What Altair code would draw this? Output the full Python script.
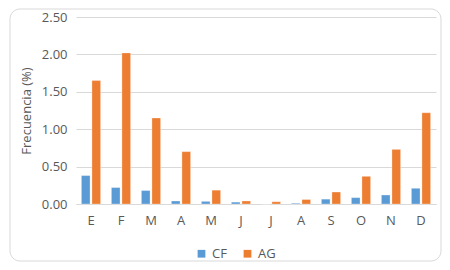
import altair as alt
import pandas as pd

months = ["E", "F", "M", "A", "M ", "J", "J ", "A ", "S", "O", "N", "D"]
cf = [0.38, 0.22, 0.18, 0.04, 0.035, 0.025, 0.0, 0.01, 0.065, 0.085, 0.12, 0.21]
ag = [1.65, 2.02, 1.15, 0.70, 0.185, 0.04, 0.03, 0.06, 0.16, 0.37, 0.73, 1.22]
series = ["CF", "AG"]
colors = ["#5B9BD5", "#ED7D31"]

rows = []
for i, m in enumerate(months):
    rows.append({"mes": m, "serie": "CF", "valor": cf[i], "orden": 0})
    rows.append({"mes": m, "serie": "AG", "valor": ag[i], "orden": 1})
df = pd.DataFrame(rows)

font = "Open Sans"
gray = "#595959"

bars = alt.Chart(df).mark_bar(stroke="white", strokeWidth=0.5, strokeOpacity=0.6).encode(
    x=alt.X("mes:N", sort=months, title=None,
            scale=alt.Scale(paddingInner=0.36, paddingOuter=0.18),
            axis=alt.Axis(labelAngle=0, ticks=False, domainColor="#d9d9d9",
                          labelColor=gray, labelFont=font, labelFontSize=13,
                          labelPadding=10, grid=False,
                          labelExpr="trim(datum.label)")),
    xOffset=alt.XOffset("serie:N", sort=series, scale=alt.Scale(paddingInner=0.18)),
    y=alt.Y("valor:Q", title="Frecuencia (%)",
            scale=alt.Scale(domain=[0, 2.5]),
            axis=alt.Axis(values=[0, 0.5, 1.0, 1.5, 2.0, 2.5], format=".2f",
                          ticks=False, domain=False, gridColor="#d9d9d9",
                          labelColor=gray, labelFont=font, labelFontSize=13,
                          labelPadding=9, titleColor=gray, titleFont=font,
                          titleFontSize=13, titleFontWeight="normal",
                          titlePadding=8)),
    color=alt.Color("serie:N", sort=series,
                    scale=alt.Scale(domain=series, range=colors),
                    legend=alt.Legend(orient="none", legendX=119, legendY=230,
                                      direction="horizontal", title=None,
                                      symbolType="square", symbolSize=60,
                                      symbolStrokeWidth=0,
                                      labelColor=gray, labelFont=font,
                                      labelFontSize=13, columnPadding=14)),
)

border = alt.Chart(pd.DataFrame({"a": [0]})).mark_rect(
    fill=None, stroke="#d9d9d9", strokeWidth=1, cornerRadius=10
).encode(
    x=alt.value(-66), x2=alt.value(365),
    y=alt.value(-8), y2=alt.value(244),
)

chart = alt.layer(border, bars).properties(
    width=360, height=187,
    autosize=alt.AutoSizeParams(type="none"),
    padding={"left": 68, "top": 9, "right": 6, "bottom": 58},
).configure_view(stroke=None)

chart.save("out.html", embed_options={"renderer": "svg", "actions": False})
